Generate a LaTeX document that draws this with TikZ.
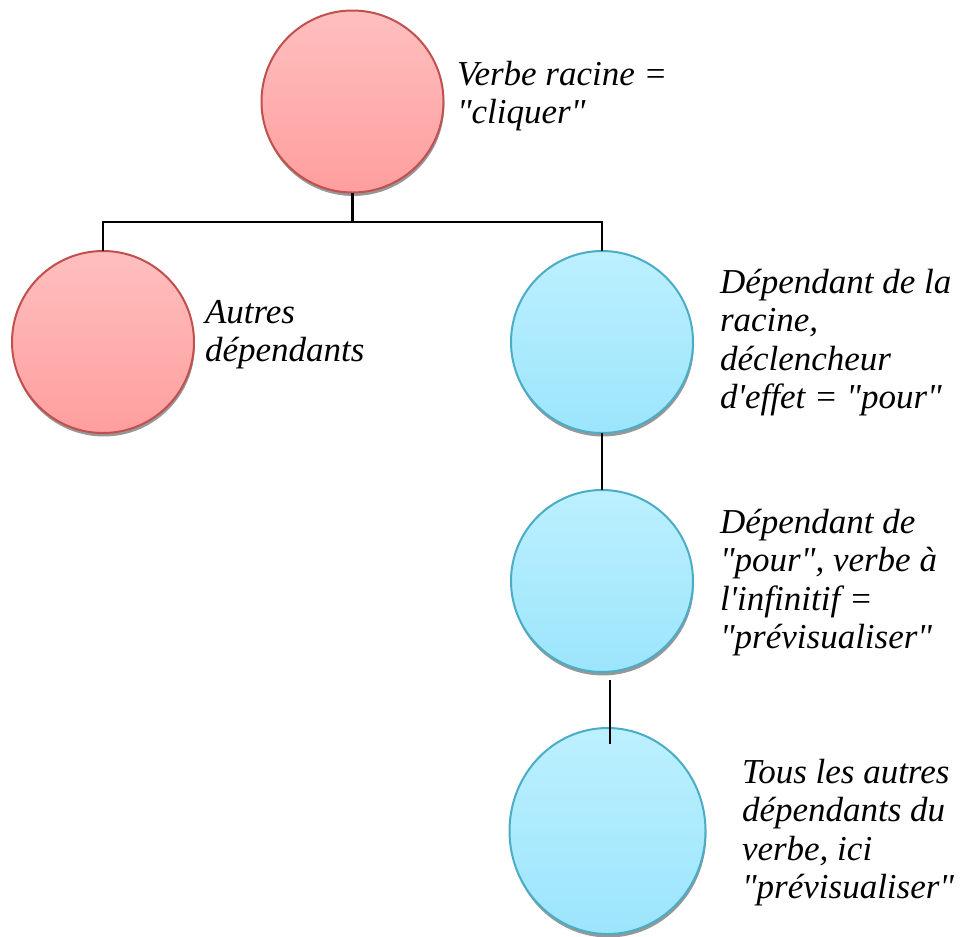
\documentclass[tikz,border=0pt]{standalone}
\usepackage{fontspec}
\setmainfont{Liberation Serif}[Ligatures=TeXOff,
  UprightFont={Liberation Serif},
  ItalicFont={Liberation Serif Italic}]
\usetikzlibrary{shapes.geometric,shadows,calc}

\definecolor{rosetop}{HTML}{FFBFBF}
\definecolor{rosebot}{HTML}{FF9E9E}
\definecolor{roseline}{HTML}{C0504D}
\definecolor{cieltop}{HTML}{BCF0FF}
\definecolor{cielbot}{HTML}{9CE5FC}
\definecolor{cielline}{HTML}{4BACC6}

\begin{document}
\begin{tikzpicture}[x=0.75pt,y=-0.75pt,
  bubble/.style={circle, minimum size=136.5pt, inner sep=0pt, outer sep=0pt,
    line width=1.5pt, shading=axis,
    drop shadow={shadow xshift=0.6pt, shadow yshift=-2.6pt, fill=black!45, opacity=0.9}},
  rose/.style={bubble, draw=roseline, top color=rosetop, bottom color=rosebot},
  ciel/.style={bubble, draw=cielline, top color=cieltop, bottom color=cielbot},
  link/.style={line width=1.7pt, draw=black},
  caption/.style={anchor=base west, inner sep=0pt, outer sep=0pt,
    font=\fontsize{26.25}{28.9}\selectfont\itshape}
]
\useasboundingbox (0,0) rectangle (962,936);

% bubbles of the dependency tree
\node[rose] (root) at (352.5,101.5) {};
\node[rose] (autres) at (103,342) {};
\node[ciel] (pour) at (602,342) {};
\node[ciel] (infinitif) at (602,581) {};
\node[ciel, ellipse, minimum width=147pt, minimum height=154.5pt] (reste) at (607.5,831) {};

% connectors
\coordinate (split) at (352.5,222);
\draw[link] (root.south) -- (split);
\draw[link] (autres.north) |- (split) -| (pour.north);
\draw[link] (pour.south) -- (infinitif.north);
\coordinate (from) at ($(infinitif.south)+(8,8)$);
\coordinate (to) at ($(reste.north)+(2.5,16)$);
\draw[link] (from) -- (to);

% captions
\node[caption] (t-root) at (457,85)
  {\begin{tabular}[t]{@{}l@{}}Verbe racine =\\"cliquer"\end{tabular}};
\node[caption] (t-autres) at (205,323)
  {\begin{tabular}[t]{@{}l@{}}Autres\\dépendants\end{tabular}};
\node[caption] (t-pour) at (720,293)
  {\begin{tabular}[t]{@{}l@{}}Dépendant de la\\racine,\\déclencheur\\d'effet = "pour"\end{tabular}};
\node[caption] (t-infinitif) at (720,533)
  {\begin{tabular}[t]{@{}l@{}}Dépendant de\\"pour", verbe à\\l'infinitif =\\"prévisualiser"\end{tabular}};
\node[caption] (t-reste) at (742,783)
  {\begin{tabular}[t]{@{}l@{}}Tous les autres\\dépendants du\\verbe, ici\\"prévisualiser"\end{tabular}};
\end{tikzpicture}
\end{document}
